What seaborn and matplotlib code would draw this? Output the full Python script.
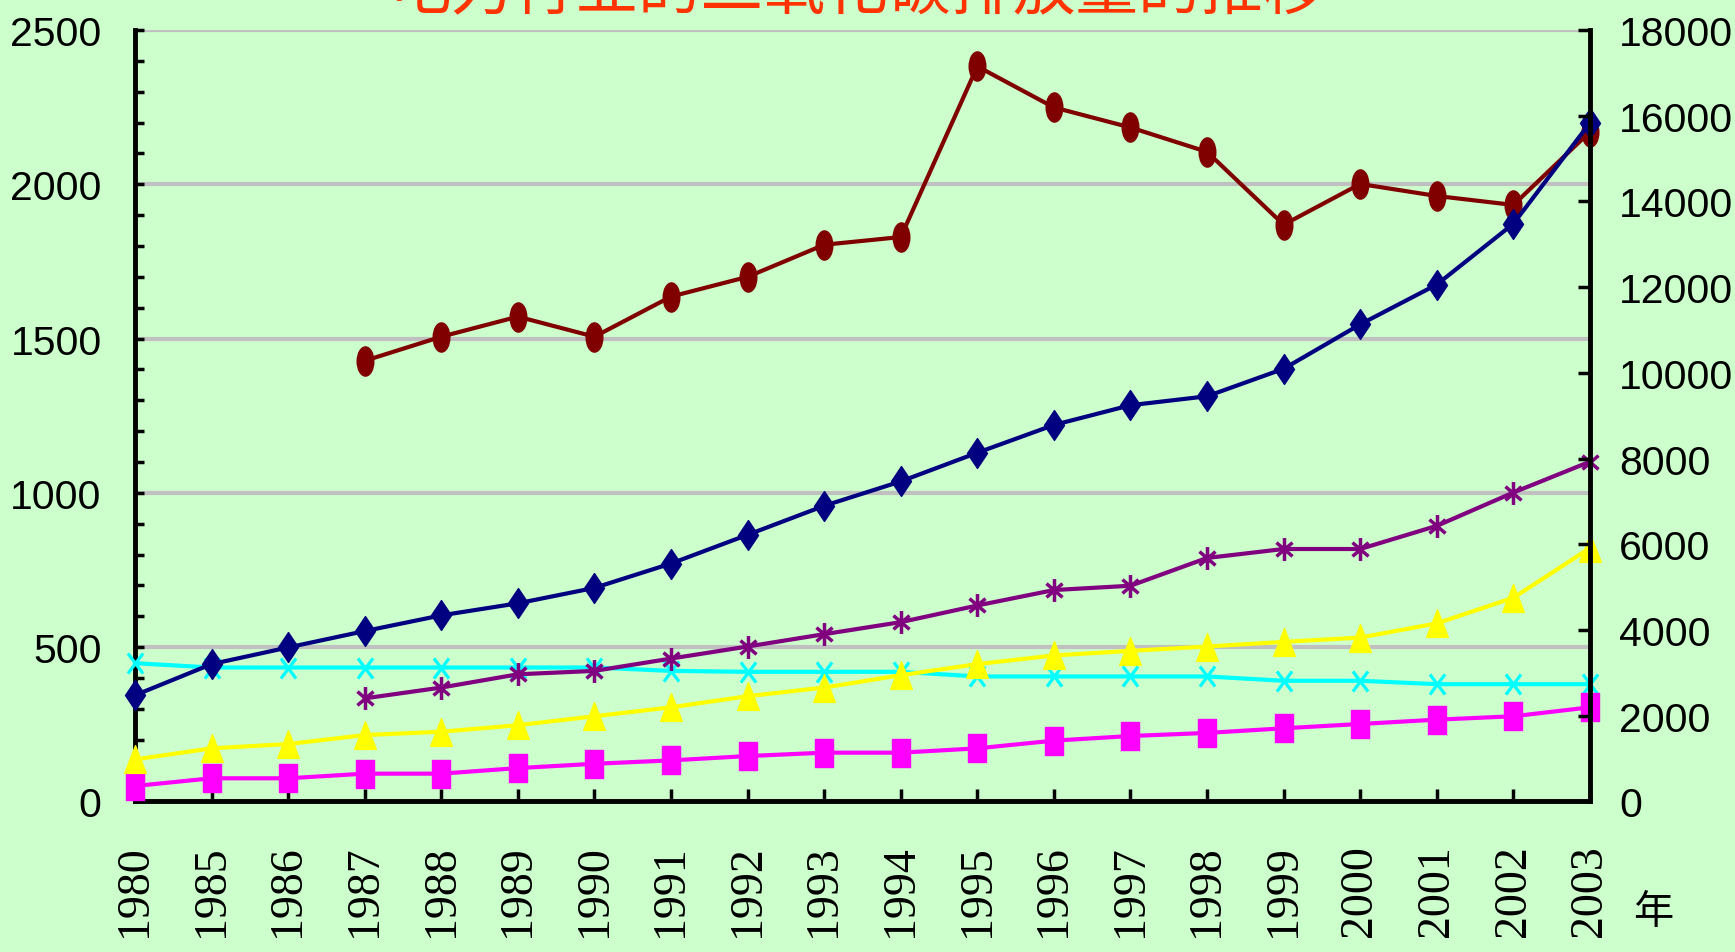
import matplotlib
matplotlib.use("Agg")
import matplotlib.pyplot as plt
import seaborn as sns
import numpy as np
import pandas as pd
from matplotlib.path import Path
from matplotlib.transforms import Affine2D
from matplotlib.ticker import MultipleLocator
from matplotlib import font_manager

nan = np.nan

years = ["1980", "1985", "1986", "1987", "1988", "1989", "1990", "1991", "1992", "1993",
         "1994", "1995", "1996", "1997", "1998", "1999", "2000", "2001", "2002", "2003"]

# values, in left-axis units
red_vals = [nan, nan, nan, 1428, 1506, 1571, 1506, 1636, 1700, 1804,
            1829, 2382, 2249, 2184, 2105, 1869, 2001, 1962, 1933, 2170]
navy_vals = [344, 445, 499, 552, 603, 642, 692, 771, 864, 958,
             1037, 1130, 1220, 1284, 1313, 1402, 1546, 1675, 1872, 2199]
purple_vals = [nan, nan, nan, 334, 369, 412, 423, 463, 502, 542,
               581, 635, 685, 699, 789, 818, 818, 893, 1001, 1101]
cyan_vals = [448, 434, 434, 434, 434, 434, 434, 423, 420, 420,
             420, 405, 405, 405, 405, 391, 391, 380, 380, 380]
yellow_vals = [136, 172, 186, 215, 226, 247, 276, 305, 341, 369,
               409, 445, 473, 488, 502, 517, 531, 577, 660, 821]
magenta_vals = [50, 75, 75, 90, 90, 108, 122, 133, 147, 158,
                158, 172, 197, 212, 222, 237, 251, 265, 276, 305]

title = "电力行业的二氧化碳排放量的推移"

bg = "#CCFFCC"

# pick a serif face for the year labels
installed = {f.name for f in font_manager.fontManager.ttflist}
serif_font = next((f for f in ["Liberation Serif", "Times New Roman", "DejaVu Serif"]
                   if f in installed), "DejaVu Serif")
serif_size = 33 if serif_font != "DejaVu Serif" else 28

# marker shapes (narrow, tall like the original)
M, L, C = Path.MOVETO, Path.LINETO, Path.CLOSEPOLY
diamond = Path([(0, 1), (0.67, 0), (0, -1), (-0.67, 0), (0, 1)], [M, L, L, L, C])
ellipse = Path.unit_circle().transformed(Affine2D().scale(0.57, 1))
square = Path([(-0.62, -1), (0.62, -1), (0.62, 1), (-0.62, 1), (-0.62, -1)], [M, L, L, L, C])
triangle = Path([(0, 1), (0.78, -1), (-0.78, -1), (0, 1)], [M, L, L, C])
asterisk = Path([(0, -1), (0, 1), (-0.7, -0.6), (0.7, 0.6), (-0.7, 0.6), (0.7, -0.6)],
                [M, L, M, L, M, L])
cross = Path([(-0.75, -1), (0.75, 1), (-0.75, 1), (0.75, -1)], [M, L, M, L])

series = [
    (red_vals, "#800000", ellipse, 21, 1),
    (cyan_vals, "#00FFFF", cross, 14.5, 2.3),
    (magenta_vals, "#FF00FF", square, 20, 1),
    (yellow_vals, "#FFFF00", triangle, 20, 1),
    (purple_vals, "#800080", asterisk, 16.5, 2.5),
    (navy_vals, "#000080", diamond, 21.5, 1),
]

fig = plt.figure(figsize=(17.35, 9.53), dpi=100, facecolor=bg)
ax = fig.add_axes([0.0778, 0.158, 0.8386, 0.8095])
ax.set_facecolor(bg)

for vals, col, mk, ms, mew in series:
    d = pd.DataFrame({"pos": np.arange(len(years)), "val": vals}).dropna()
    sns.lineplot(data=d, x="pos", y="val", ax=ax, color=col, lw=3,
                 marker=mk, markersize=ms, markerfacecolor=col,
                 markeredgecolor=col, markeredgewidth=mew, clip_on=False, zorder=3)

ax.set_xlim(0, len(years) - 1)
ax.set_ylim(0, 2500)
ax.set_xlabel("")
ax.set_ylabel("")
ax.yaxis.set_major_locator(MultipleLocator(500))
ax.yaxis.set_minor_locator(MultipleLocator(100))
ax.grid(axis="y", which="major", color="#C0C0C0", lw=3, zorder=0)
ax.set_axisbelow(True)

ax.set_xticks(range(len(years)))
ax.set_xticklabels(years)
ax.tick_params(axis="x", direction="in", length=9, width=2.5, pad=31,
               labelrotation=90, labelsize=serif_size, labelfontfamily=serif_font)
ax.tick_params(axis="y", which="both", direction="in", length=6.5, width=2.5,
               labelsize=29.5, pad=24, labelfontfamily="Liberation Sans")

for s in ["top", "right"]:
    ax.spines[s].set_visible(False)
for s in ["left", "bottom"]:
    ax.spines[s].set_linewidth(3.5)
    ax.spines[s].set_color("black")

ax2 = ax.twinx()
ax2.set_ylim(0, 18000)
ax2.yaxis.set_major_locator(MultipleLocator(2000))
ax2.tick_params(axis="y", direction="in", length=9, width=2.5, labelsize=29.5, pad=21,
                labelfontfamily="Liberation Sans")
for s in ["top", "left", "bottom"]:
    ax2.spines[s].set_visible(False)
ax2.spines["right"].set_linewidth(3.5)
ax2.spines["right"].set_color("black")

fig.text(0.494, 0.9906, title, ha="center", va="baseline", color="#FF3300",
         fontsize=45, family=["Noto Sans CJK SC", "DejaVu Sans"])
fig.text(0.953, 0.042, "年", ha="center", va="center", color="black",
         fontsize=29, family=["Noto Sans CJK SC", "DejaVu Sans"])

fig.savefig("out.png", dpi=100, facecolor=bg)
